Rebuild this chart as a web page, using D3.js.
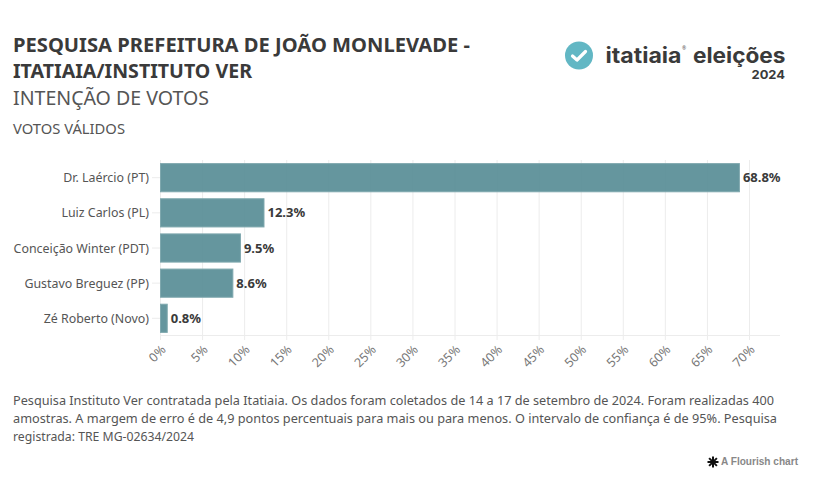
<!DOCTYPE html>
<html><head><meta charset="utf-8">
<script src="https://cdn.jsdelivr.net/npm/d3@7/dist/d3.min.js"></script>
<style>
html,body{margin:0;padding:0;background:#fff;overflow:hidden}
svg{display:block}
text{font-family:"Noto Sans",sans-serif;fill:#333}
</style></head><body>
<svg id="c" width="830" height="482"></svg>
<script>
const categories=["Dr. Laércio (PT)","Luiz Carlos (PL)","Conceição Winter (PDT)","Gustavo Breguez (PP)","Zé Roberto (Novo)"];
const values=[68.8,12.3,9.5,8.6,0.8];
const ticks=[0,5,10,15,20,25,30,35,40,45,50,55,60,65,70];
const titleLines=["PESQUISA PREFEITURA DE JOÃO MONLEVADE -","ITATIAIA/INSTITUTO VER"];
const subtitle="INTENÇÃO DE VOTOS";
const note="VOTOS VÁLIDOS";
const footer=["Pesquisa Instituto Ver contratada pela Itatiaia. Os dados foram coletados de 14 a 17 de setembro de 2024. Foram realizadas 400","amostras. A margem de erro é de 4,9 pontos percentuais para mais ou para menos. O intervalo de confiança é de 95%. Pesquisa","registrada: TRE MG-02634/2024"];

const svg=d3.select("#c");
const x=d3.scaleLinear().domain([0,70]).range([160.5,749.5]);
const y=d3.scaleBand().domain(categories).range([161,335]).paddingInner(0.17).paddingOuter(0.06);

function fit(sel,w){sel.attr("textLength",w).attr("lengthAdjust","spacingAndGlyphs");return sel;}

svg.selectAll(".title").data(titleLines).join("text").attr("class","title")
 .attr("x",13).attr("y",(d,i)=>52+i*26).attr("font-size",20).attr("font-weight",700).style("fill","#3a3a3a")
 .attr("textLength",(d,i)=>[457,239][i]).attr("lengthAdjust","spacingAndGlyphs").text(d=>d);
fit(svg.append("text").attr("x",13).attr("y",105).attr("font-size",20).style("fill","#555").text(subtitle),196);
fit(svg.append("text").attr("x",13).attr("y",134).attr("font-size",14.5).style("fill","#555").text(note),112);

// grid, extending below the axis as tick marks
svg.selectAll(".grid").data(ticks).join("line").attr("class","grid")
 .attr("x1",d=>x(d)).attr("x2",d=>x(d)).attr("y1",160).attr("y2",340)
 .attr("stroke","#ececec").attr("stroke-width",1);
svg.append("line").attr("x1",160).attr("x2",780).attr("y1",335.5).attr("y2",335.5).attr("stroke","#ececec");

// category tick marks
svg.selectAll(".cattick").data(categories).join("line").attr("class","cattick")
 .attr("x1",152).attr("x2",160).attr("y1",d=>y(d)+y.bandwidth()/2).attr("y2",d=>y(d)+y.bandwidth()/2)
 .attr("stroke","#ececec");

// bars
svg.selectAll(".bar").data(values).join("rect").attr("class","bar")
 .attr("x",x(0)).attr("y",(d,i)=>y(categories[i])+0.5).attr("width",d=>x(d)-x(0)).attr("height",y.bandwidth()-1)
 .attr("fill","#548b94").attr("fill-opacity",0.9).attr("stroke","#7fa8ae").attr("stroke-width",1);

// category labels
svg.selectAll(".cat").data(categories).join("text").attr("class","cat")
 .attr("x",149).attr("y",d=>y(d)+y.bandwidth()/2+4.5).attr("text-anchor","end")
 .attr("font-size",12.4).style("fill","#555").text(d=>d);

// value labels
svg.selectAll(".val").data(values).join("text").attr("class","val")
 .attr("x",d=>x(d)+3.5).attr("y",(d,i)=>y(categories[i])+y.bandwidth()/2+4.5)
 .attr("font-size",13).attr("font-weight",700).style("fill","#3a3a3a").text(d=>d.toFixed(1)+"%");

// tick labels
svg.selectAll(".tick").data(ticks).join("text").attr("class","tick")
 .attr("text-anchor","end").attr("font-size",12.5).style("fill","#777")
 .attr("transform",d=>`translate(${x(d)+6},${350.5}) rotate(-45)`).text(d=>d+"%");

// footer
svg.selectAll(".foot").data(footer).join("text").attr("class","foot")
 .attr("x",13).attr("y",(d,i)=>405+i*17.8).attr("font-size",12.5).style("fill","#555")
 .attr("textLength",(d,i)=>[761,764,181][i]).attr("lengthAdjust","spacingAndGlyphs").text(d=>d);

// logo
const logo=svg.append("g");
logo.append("circle").attr("cx",579).attr("cy",55.5).attr("r",14).attr("fill","#62b7c4");
logo.append("path").attr("d","M572.5 56 L577 60 L585.5 51.5").attr("fill","none").attr("stroke","#fff").attr("stroke-width",3.2).attr("stroke-linecap","round").attr("stroke-linejoin","round");
fit(logo.append("text").attr("x",605.5).attr("y",62.5).attr("font-size",21).attr("font-weight",700).style("font-family","Inter,sans-serif").style("fill","#3a3a3a").text("itatiaia"),76);
logo.append("text").attr("x",682).attr("y",50).attr("font-size",5).style("fill","#555").text("®");
fit(logo.append("text").attr("x",693).attr("y",62.5).attr("font-size",21).attr("font-weight",700).style("font-family","Inter,sans-serif").style("fill","#3a3a3a").text("eleições"),92.5);
fit(logo.append("text").attr("x",751.5).attr("y",78.5).attr("font-size",11.5).attr("font-weight",700).style("font-family","Inter,sans-serif").style("fill","#3a3a3a").text("2024"),33.5);

// flourish credit
const star=svg.append("g").attr("transform","translate(713,462)");
[0,45,90,135].forEach(a=>star.append("line").attr("x1",-5.5).attr("x2",5.5).attr("transform",`rotate(${a})`).attr("stroke","#111").attr("stroke-width",2));
fit(svg.append("text").attr("x",721).attr("y",465).attr("font-size",10.5).attr("font-weight",700).style("font-family","'Liberation Sans',sans-serif").style("fill","#888").text("A Flourish chart"),77);
</script></body></html>
